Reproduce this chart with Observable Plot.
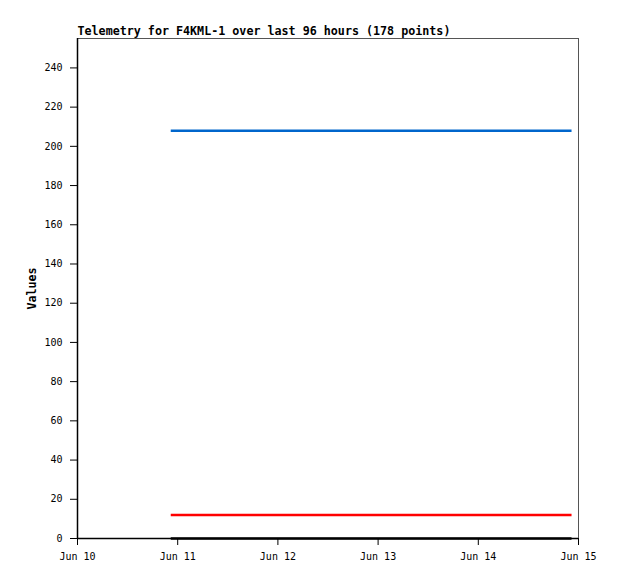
<!DOCTYPE html>
<html>
<head>
<meta charset="utf-8">
<script src="https://cdn.jsdelivr.net/npm/d3@7"></script>
<script src="https://cdn.jsdelivr.net/npm/@observablehq/plot@0.6"></script>
<style>
  html, body { margin: 0; padding: 0; background: #fff; }
</style>
</head>
<body>
<div id="chart"></div>
<script>
const title = "Telemetry for F4KML-1 over last 96 hours (178 points)";
const yLabel = "Values";
const times = ["2023-06-10T22:20:00Z", "2023-06-14T22:20:00Z"];
const seriesNames = ["Ch1", "Ch2", "Ch3"];
const seriesColors = ["#0066cc", "#ff0000", "#000000"];
const ch1 = [208, 208];
const ch2 = [12, 12];
const ch3 = [0, 0];
const yTicks = [0, 20, 40, 60, 80, 100, 120, 140, 160, 180, 200, 220, 240];
const xTicks = ["2023-06-10", "2023-06-11", "2023-06-12", "2023-06-13", "2023-06-14", "2023-06-15"];

const values = [ch1, ch2, ch3];
const data = [];
seriesNames.forEach((s, i) => {
  times.forEach((t, j) => data.push({ series: s, time: new Date(t), value: values[i][j] }));
});
const xT = xTicks.map(d => new Date(d + "T00:00:00Z"));
const x0 = xT[0], x1 = xT[xT.length - 1];

const font = "'DejaVu Sans Mono', 'Liberation Mono', monospace";

const chart = Plot.plot({
  width: 618,
  height: 579,
  marginLeft: 77,
  marginRight: 40,
  marginTop: 38,
  marginBottom: 41,
  style: { fontFamily: font, fontSize: "10px", color: "#000", background: "#fff" },
  x: { type: "utc", domain: [x0, x1] },
  y: { domain: [0, 255] },
  color: { domain: seriesNames, range: seriesColors },
  marks: [
    Plot.frame({ stroke: "#555" }),
    Plot.axisY({ ticks: yTicks, tickSize: 7, tickPadding: 8, label: null, fontSize: 10 }),
    Plot.axisX({ ticks: xT, tickSize: 7, tickPadding: 7, label: null, fontSize: 10, tickFormat: d3.utcFormat("%b %d") }),
    Plot.line(data, { x: "time", y: "value", z: "series", stroke: "series", strokeWidth: 2.5, strokeLinecap: "butt" }),
    Plot.ruleX([x0], { stroke: "#000", strokeWidth: 1.5 }),
    Plot.ruleY([0], { stroke: "#000", strokeWidth: 1.5 }),
    Plot.text([title], { frameAnchor: "top-left", dy: -4, textAnchor: "start", lineAnchor: "bottom", fontWeight: "bold", fontSize: 11.7, fill: "#000" }),
    Plot.text([yLabel], { frameAnchor: "left", dx: -45, rotate: -90, textAnchor: "middle", fontWeight: "bold", fontSize: 11.7, fill: "#000" })
  ]
});
document.getElementById("chart").appendChild(chart);
</script>
</body>
</html>
